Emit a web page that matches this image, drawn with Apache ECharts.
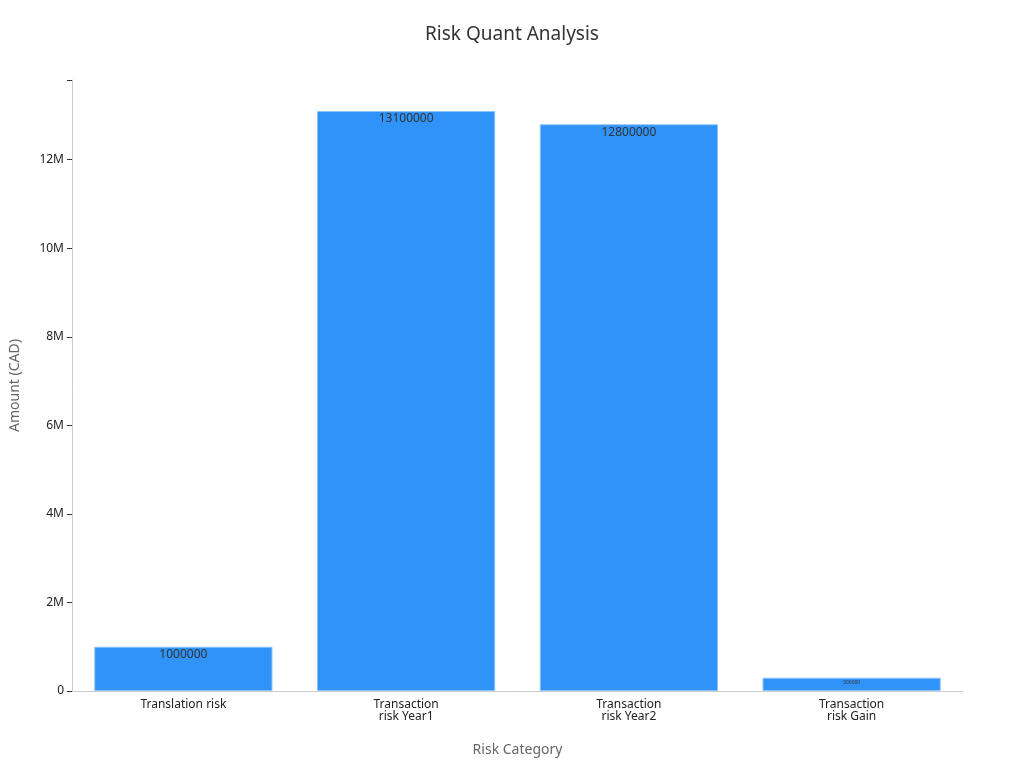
<!DOCTYPE html><html><head><meta charset="utf-8"><script src="https://cdn.jsdelivr.net/npm/echarts@6/dist/echarts.min.js"></script></head><body style="margin:0"><div id="c" style="width:1024px;height:768px"></div><script>
const categories=['Translation risk','Transaction\nrisk Year1','Transaction\nrisk Year2','Transaction\nrisk Gain'];
const values=[1000000,13100000,12800000,300000];
const labelSizes=[12,12,12,5];
const ch=echarts.init(document.getElementById('c'));
ch.setOption({
title:{text:'Risk Quant Analysis',left:'center',top:20,textStyle:{fontFamily:'Noto Sans',fontSize:19,fontWeight:'normal',color:'#333'}},
grid:{left:70,right:61,top:80,bottom:77},
xAxis:{type:'category',data:categories,name:'Risk Category',nameLocation:'middle',nameGap:52,nameTextStyle:{fontFamily:'Noto Sans',fontSize:14,color:'#666'},axisLine:{lineStyle:{color:'#ccc'}},axisTick:{alignWithLabel:true,lineStyle:{color:'#333'}},axisLabel:{fontFamily:'Noto Sans',fontSize:12,color:'#222',interval:0}},
yAxis:{type:'value',min:0,max:13800000,interval:2000000,name:'Amount (CAD)',nameLocation:'middle',nameGap:50,nameTextStyle:{fontFamily:'Noto Sans',fontSize:14,color:'#666'},splitLine:{show:false},axisLine:{show:true,lineStyle:{color:'#ccc'}},axisTick:{show:true,lineStyle:{color:'#333'}},axisLabel:{fontFamily:'Noto Sans',fontSize:12,color:'#222',formatter:v=>v%2000000?'':(v===0?'0':v/1e6+'M')}},
series:[{type:'bar',barWidth:'80%',data:values.map((v,i)=>({value:v,label:{fontSize:labelSizes[i]}})),itemStyle:{color:'#2f93fa',borderColor:'#8cc4fb',borderWidth:1},label:{show:true,position:'insideTop',color:'#333',fontFamily:'Noto Sans',offset:[0,-3]}}]
});
</script></body></html>
